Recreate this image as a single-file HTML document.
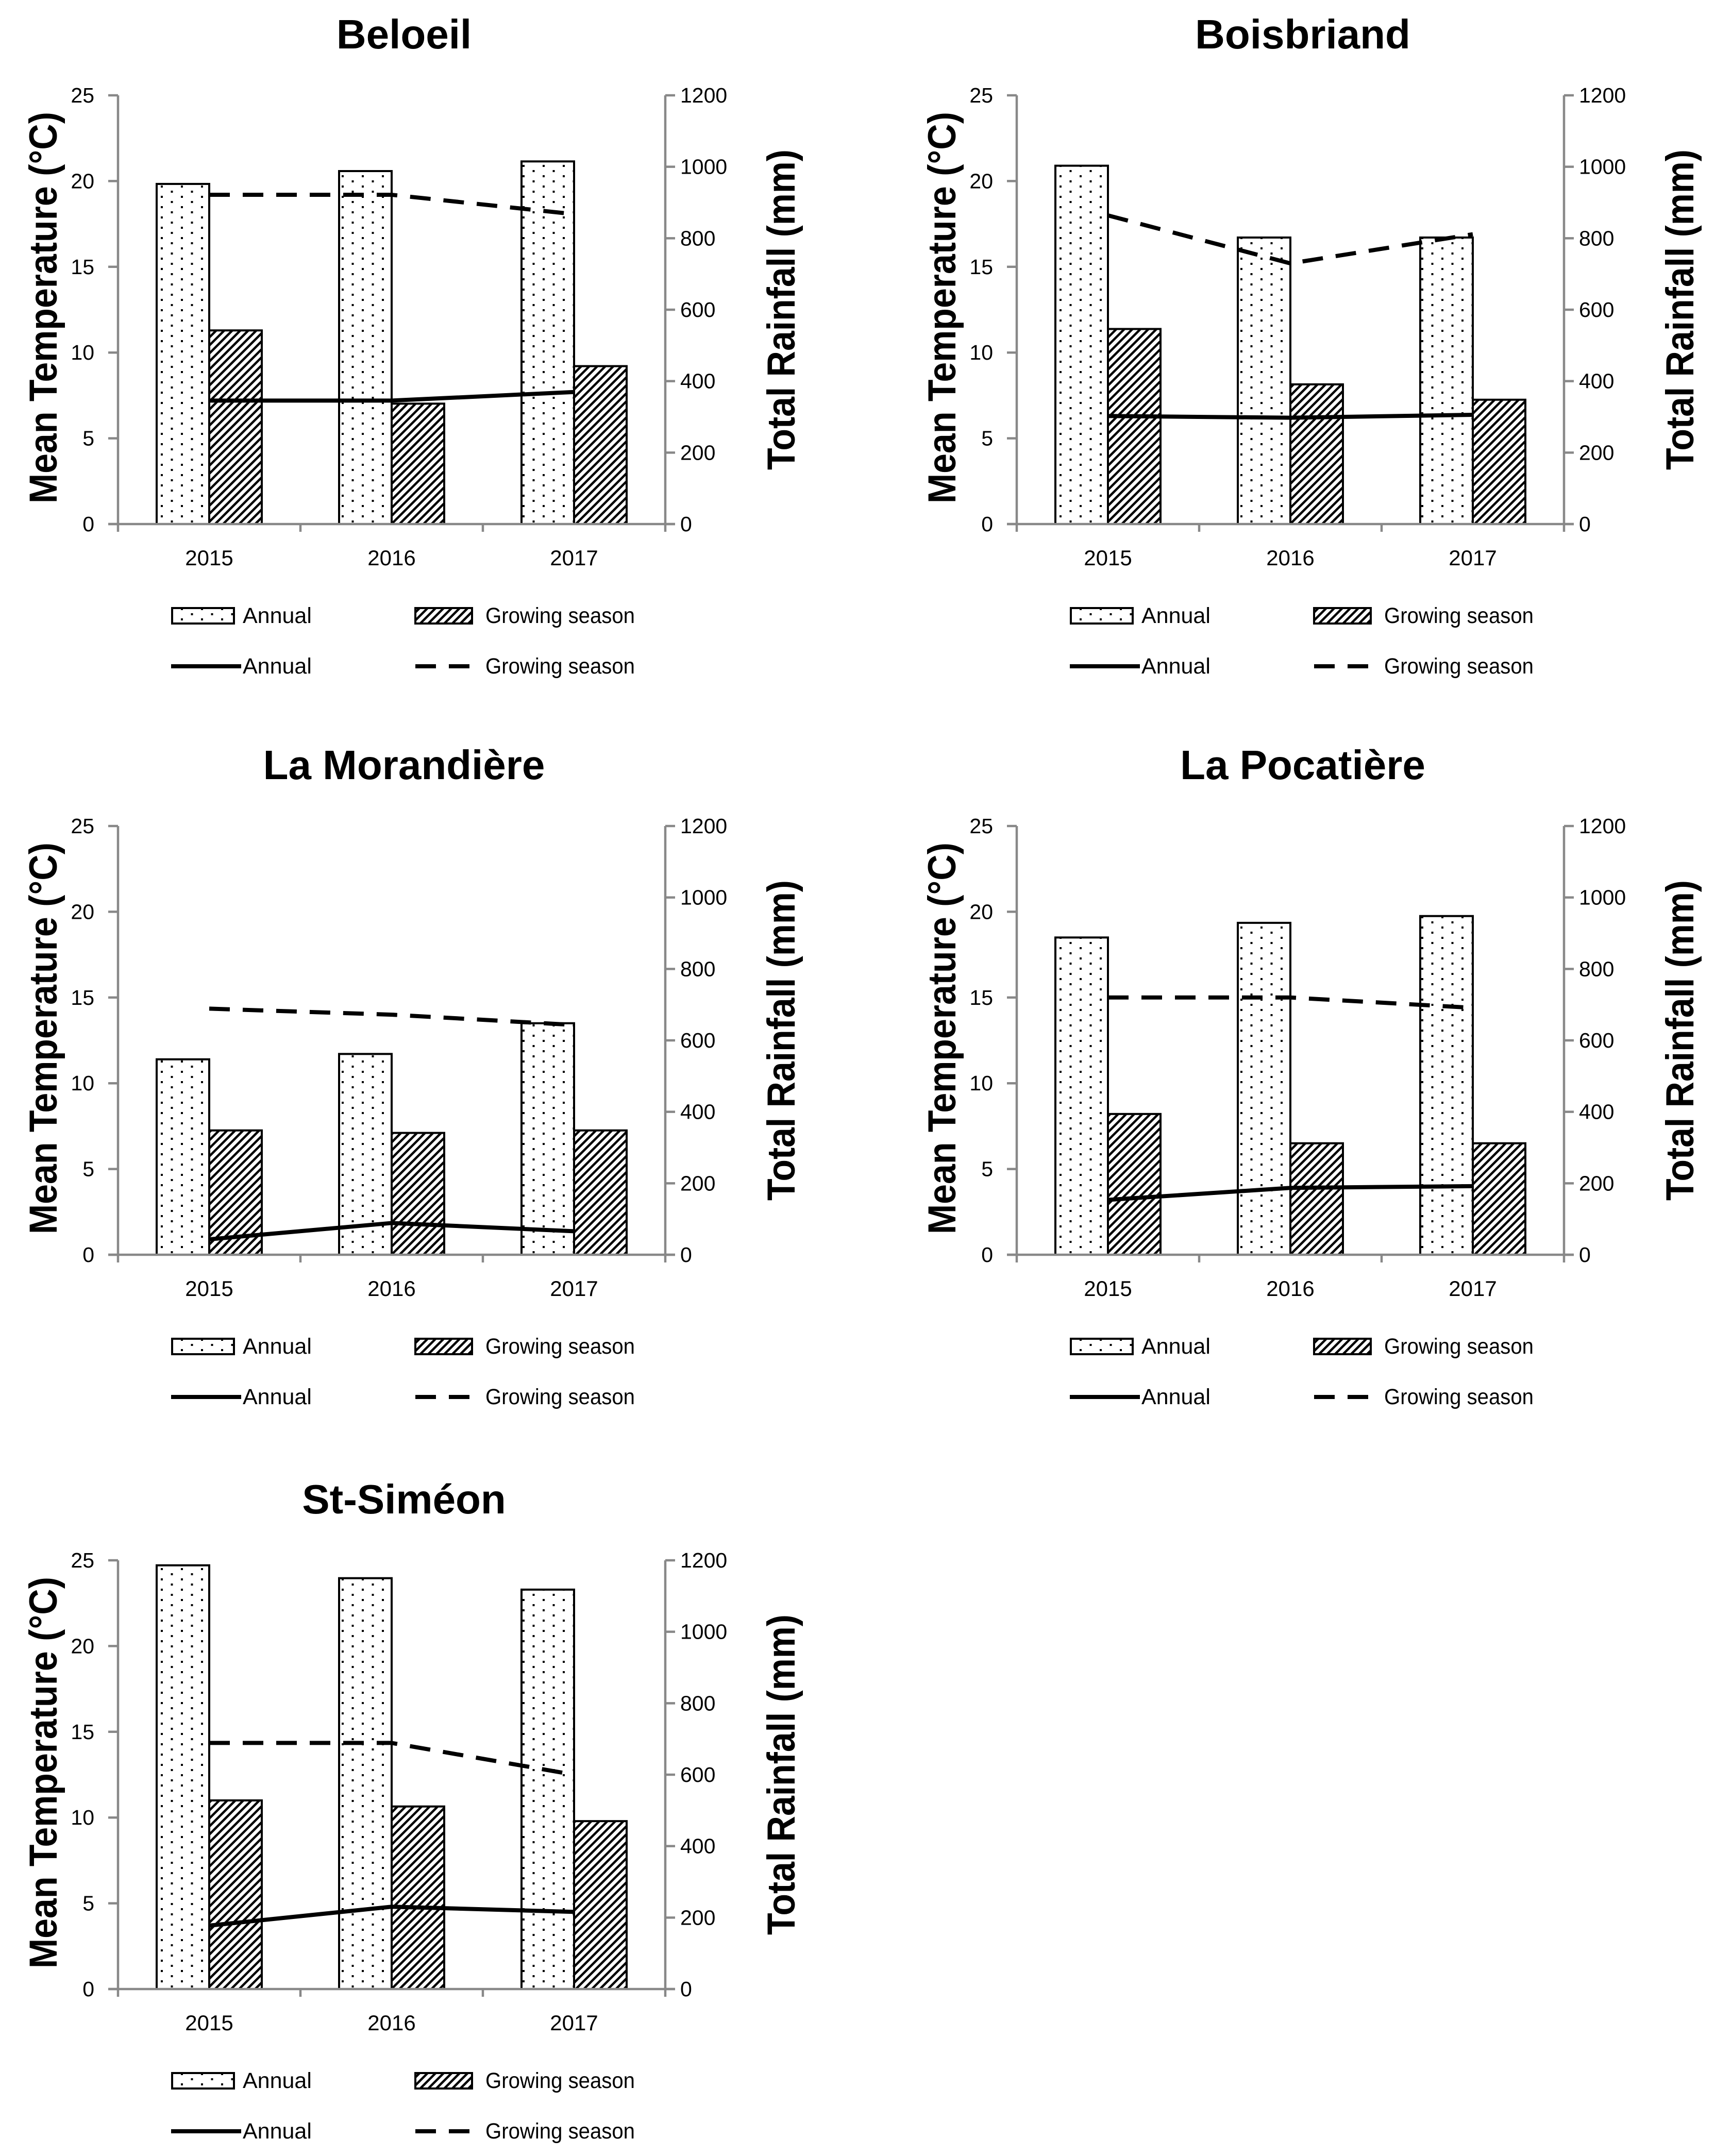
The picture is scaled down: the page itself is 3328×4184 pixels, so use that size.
<!DOCTYPE html>
<html><head><meta charset="utf-8"><style>
html,body{margin:0;padding:0;background:#fff}
svg{display:block}
text{font-family:"Liberation Sans",sans-serif;fill:#000}
</style></head><body>
<svg id="fig" xmlns="http://www.w3.org/2000/svg" width="3328" height="4184" viewBox="0 0 3328 4184">
<defs>
<pattern id="dots" patternUnits="userSpaceOnUse" width="39" height="20">
<rect x="0" y="0" width="4" height="4" fill="#000"/><rect x="19.5" y="10" width="4" height="4" fill="#000"/>
</pattern>
<pattern id="hatch" patternUnits="userSpaceOnUse" width="11" height="11" patternTransform="rotate(45)">
<rect x="0" y="0" width="4.5" height="11" fill="#000"/>
</pattern>
</defs>
</svg>
<script>
const categories = ["2015","2016","2017"];
const stationNames = ["Beloeil","Boisbriand","La Morandière","La Pocatière","St-Siméon"];
const rainAnnual = [[952,988,1015],[1003,802,802],[547,562,648],[888,929,948],[1186,1150,1118]];
const rainGrowing = [[542,337,442],[546,391,348],[348,341,348],[394,312,312],[528,511,470]];
const tempAnnual = [[7.2,7.2,7.7],[6.3,6.2,6.37],[0.9,1.85,1.37],[3.2,3.9,4.0],[3.7,4.8,4.5]];
const tempGrowing = [[19.2,19.2,18.07],[18.0,15.2,16.9],[14.35,14.0,13.4],[15.0,15.0,14.4],[14.35,14.35,12.5]];
const leftTicks = [0,5,10,15,20,25];
const rightTicks = [0,200,400,600,800,1000,1200];

const NS="http://www.w3.org/2000/svg";
const svg=document.getElementById('fig');
function mk(tag,attrs,parent,txt){const e=document.createElementNS(NS,tag);for(const k in attrs)e.setAttribute(k,attrs[k]);if(txt!==undefined)e.textContent=txt;parent.appendChild(e);return e;}

const offsets=[[0,0],[1744,0],[0,1418],[1744,1418],[0,2843]];
const L=229,R=1291,T=185,B=1017;
const tMax=25,rMax=1200;

stationNames.forEach((name,s)=>{
  const [dx,dy]=offsets[s];
  const g=mk('g',{transform:`translate(${dx},${dy})`},svg);
  
  
  const yT=v=>B-(v/tMax)*(B-T);
  const yR=v=>B-(v/rMax)*(B-T);
  const band=(R-L)/categories.length;
  const xc=i=>L+band*(i+0.5);
  const bw=102;

  const t=mk('text',{x:784,y:94,'font-size':80,'font-weight':'bold','text-anchor':'middle'},g,name);
  
  

  // bars
  categories.forEach((c,i)=>{
    const ya=yR(rainAnnual[s][i]);
    const b1=mk('rect',{x:xc(i)-bw,y:ya,width:bw,height:B-ya,fill:'#fff',stroke:'none'},g);
    mk('rect',{x:xc(i)-bw,y:ya,width:bw,height:B-ya,fill:'url(#dots)',stroke:'#000','stroke-width':4},g);
    
    
    const yg=yR(rainGrowing[s][i]);
    mk('rect',{x:xc(i),y:yg,width:bw,height:B-yg,fill:'#fff'},g);
    const b2=mk('rect',{x:xc(i),y:yg,width:bw,height:B-yg,fill:'url(#hatch)',stroke:'#000','stroke-width':4},g);
    
    
  });

  // axes
  const ax=mk('g',{stroke:'#888','stroke-width':4.5,fill:'none'},g);
  
  
  mk('line',{x1:L,y1:T,x2:L,y2:B},ax);
  mk('line',{x1:R,y1:T,x2:R,y2:B},ax);
  mk('line',{x1:L-19,y1:B,x2:R+19,y2:B},ax);
  leftTicks.forEach(v=>{
    mk('line',{x1:L-19,y1:yT(v),x2:L,y2:yT(v)},ax);
    const tl=mk('text',{x:183,y:yT(v)+14,'font-size':41,'text-anchor':'end',stroke:'none'},g,String(v));
    
    
  });
  rightTicks.forEach(v=>{
    mk('line',{x1:R,y1:yR(v),x2:R+19,y2:yR(v)},ax);
    const tl=mk('text',{x:1320,y:yR(v)+14,'font-size':41,stroke:'none'},g,String(v));
    
    
  });
  for(let i=0;i<=categories.length;i++){
    mk('line',{x1:L+band*i,y1:B,x2:L+band*i,y2:B+15},ax);
  }
  categories.forEach((c,i)=>{
    const xl=mk('text',{x:xc(i),y:1097,'font-size':42,'text-anchor':'middle'},g,c);
    
    
  });

  // lines
  const ptsA=categories.map((c,i)=>xc(i)+','+yT(tempAnnual[s][i])).join(' ');
  const la=mk('polyline',{points:ptsA,fill:'none',stroke:'#000','stroke-width':8,'stroke-linejoin':'round'},g);
  
  
  const ptsG=categories.map((c,i)=>xc(i)+','+yT(tempGrowing[s][i])).join(' ');
  const lg=mk('polyline',{points:ptsG,fill:'none',stroke:'#000','stroke-width':8,'stroke-dasharray':'40 25'},g);
  
  

  // axis titles
  const yt=mk('text',{x:0,y:0,'font-size':76,'font-weight':'bold','text-anchor':'middle',transform:'translate(110,597) rotate(-90)',textLength:760,lengthAdjust:'spacingAndGlyphs'},g,'Mean Temperature (°C)');
  
  
  const rt=mk('text',{x:0,y:0,'font-size':76,'font-weight':'bold','text-anchor':'middle',transform:'translate(1542,601) rotate(-90)',textLength:622,lengthAdjust:'spacingAndGlyphs'},g,'Total Rainfall (mm)');
  
  

  // legend
  const lgd=mk('g',{},g);
  
  
  mk('rect',{x:334,y:1180,width:120,height:30,fill:'url(#dots)',stroke:'#000','stroke-width':4},lgd);
  mk('text',{x:471,y:1209,'font-size':43},lgd,'Annual');
  mk('rect',{x:806,y:1180,width:110,height:30,fill:'url(#hatch)',stroke:'#000','stroke-width':4},lgd);
  mk('text',{x:942,y:1209,'font-size':43,textLength:290,lengthAdjust:'spacingAndGlyphs'},lgd,'Growing season');
  mk('line',{x1:332,y1:1293,x2:468,y2:1293,stroke:'#000','stroke-width':8},lgd);
  mk('text',{x:471,y:1307,'font-size':43},lgd,'Annual');
  mk('line',{x1:806,y1:1293,x2:932,y2:1293,stroke:'#000','stroke-width':8,'stroke-dasharray':'40 25'},lgd);
  mk('text',{x:942,y:1307,'font-size':43,textLength:290,lengthAdjust:'spacingAndGlyphs'},lgd,'Growing season');
});
</script>
</body></html>
